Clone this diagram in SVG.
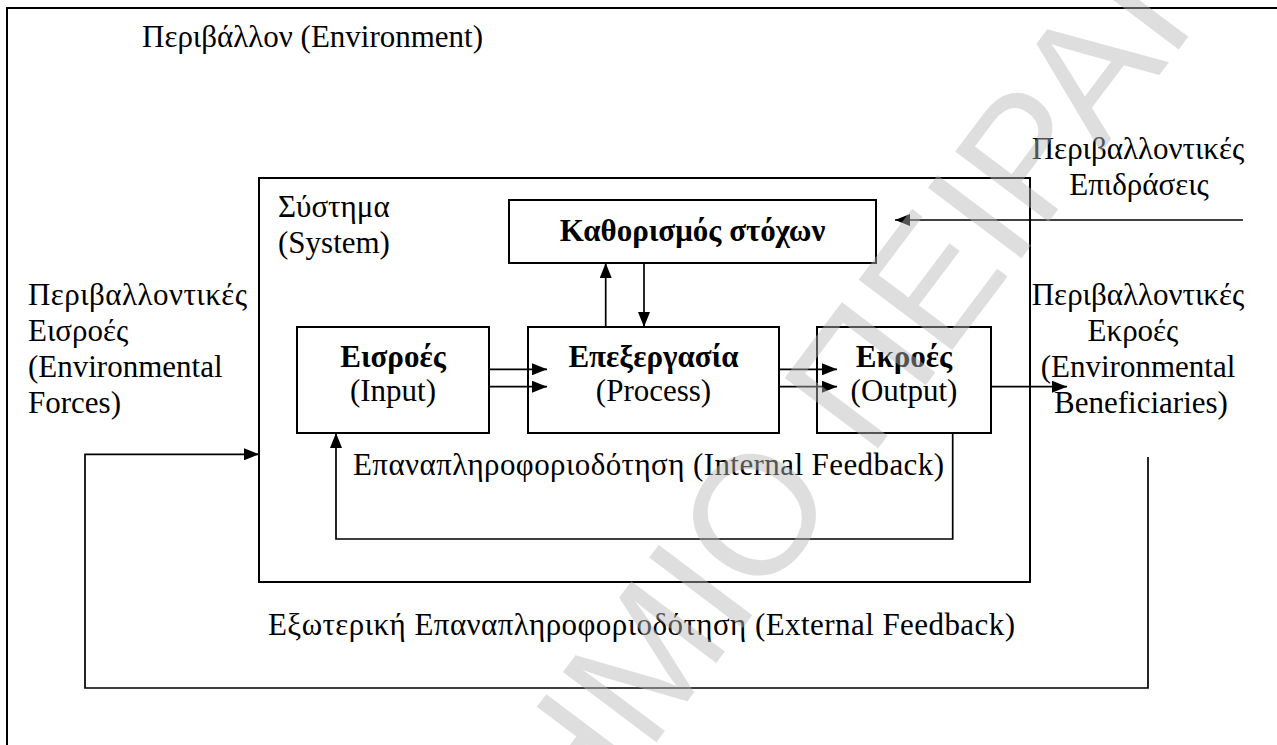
<svg xmlns="http://www.w3.org/2000/svg" width="1277" height="745" viewBox="0 0 1277 745">
<defs>
<marker id="ah" viewBox="0 0 15 12" refX="15" refY="6" markerWidth="15" markerHeight="12" markerUnits="userSpaceOnUse" orient="auto"><path d="M0,0 L15,6 L0,12 z" fill="#000"/></marker>
</defs>
<style>
text { font-family: "Liberation Serif", "Times New Roman", serif; font-size: 31px; fill: #000; }
.b { font-weight: bold; }
.m { text-anchor: middle; }
.box { fill: none; stroke: #000; stroke-width: 2; }
.c { fill: none; stroke: #000; stroke-width: 1.7; }
.wm { font-family: "Liberation Sans", Arial, sans-serif; font-size: 170px; fill: #b8b8b8; opacity: 0.45; }
</style>
<rect width="1277" height="745" fill="#fff"/>
<g id="environment">
<path class="box" d="M7,745 V8 H1277"/>
<text x="142" y="47">Περιβάλλον (Environment)</text>
</g>
<g id="system">
<rect class="box" x="259" y="178" width="771" height="404"/>
<text x="278" y="217">Σύστημα</text>
<text x="278" y="253">(System)</text>
</g>
<g id="goals">
<rect class="box" x="509" y="200" width="367" height="63"/>
<text class="b m" x="692.5" y="241">Καθορισμός στόχων</text>
</g>
<g id="input">
<rect class="box" x="297" y="327" width="192" height="106"/>
<text class="b m" x="393" y="367">Εισροές</text>
<text class="m" x="393" y="401">(Input)</text>
</g>
<g id="process">
<rect class="box" x="528" y="327" width="251" height="106"/>
<text class="b m" x="653.5" y="367">Επεξεργασία</text>
<text class="m" x="653.5" y="401">(Process)</text>
</g>
<g id="output">
<rect class="box" x="817" y="327" width="174" height="106"/>
<text class="b m" x="904" y="367">Εκροές</text>
<text class="m" x="904" y="401">(Output)</text>
</g>
<g id="env-inputs">
<text x="28" y="305" textLength="219" lengthAdjust="spacing">Περιβαλλοντικές</text>
<text x="28" y="341">Εισροές</text>
<text x="28" y="377">(Environmental</text>
<text x="28" y="413">Forces)</text>
</g>
<g id="env-influences">
<text class="m" x="1138" y="159">Περιβαλλοντικές</text>
<text class="m" x="1139" y="195">Επιδράσεις</text>
</g>
<g id="env-outputs">
<text class="m" x="1138" y="305">Περιβαλλοντικές</text>
<text class="m" x="1133" y="341">Εκροές</text>
<text class="m" x="1138" y="377">(Environmental</text>
<text class="m" x="1141" y="413">Beneficiaries)</text>
</g>
<g id="connectors">
<path class="c" d="M489,369.3 H547" marker-end="url(#ah)"/>
<path class="c" d="M489,386.7 H547" marker-end="url(#ah)"/>
<path class="c" d="M779,369.3 H837" marker-end="url(#ah)"/>
<path class="c" d="M779,386.7 H837" marker-end="url(#ah)"/>
<path class="c" d="M991,386.7 H1067" marker-end="url(#ah)"/>
<path class="c" d="M605.7,327 V263" stroke-width="2.6" marker-end="url(#ah)"/>
<path class="c" d="M644,263 V327" marker-end="url(#ah)"/>
<path class="c" d="M1243,220 H895" marker-end="url(#ah)"/>
<path class="c" d="M952.7,433 V539 H336 V433" marker-end="url(#ah)"/>
<path class="c" d="M1148,457 V688 H85 V454.3 H259" marker-end="url(#ah)"/>
<text x="353" y="475" textLength="591" lengthAdjust="spacing">Επαναπληροφοριοδότηση (Internal Feedback)</text>
<text x="268" y="635" textLength="747" lengthAdjust="spacing">Εξωτερική Επαναπληροφοριοδότηση (External Feedback)</text>
</g>
<g id="watermark">
<text class="wm" transform="translate(753,513) rotate(-53)" x="-378" y="61">ΗΜΙΟ ΠΕΙΡΑΙ</text>
</g>
</svg>
